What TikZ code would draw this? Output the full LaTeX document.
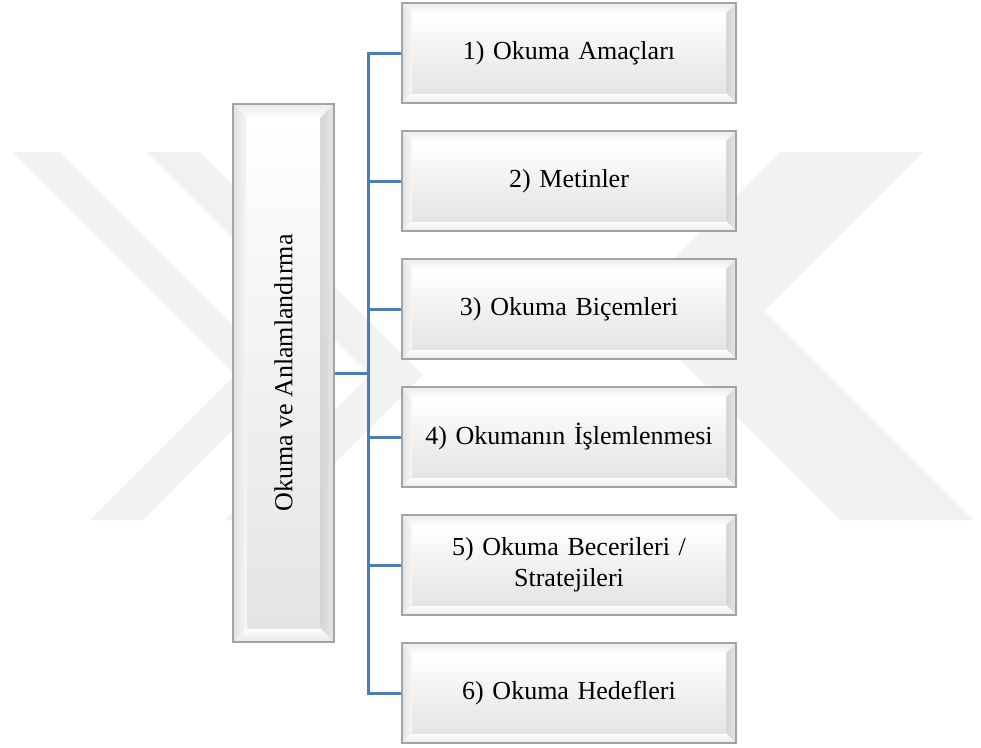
\documentclass[tikz,border=0pt]{standalone}
\usepackage{fontspec}
\setmainfont{Liberation Serif}
\pgfdeclarelayer{wm}
\pgfdeclarelayer{conn}
\pgfdeclarelayer{bev}
\pgfsetlayers{wm,conn,bev,main}
\definecolor{conncol}{HTML}{4A7EBB}
\definecolor{bordercol}{HTML}{A3A3A3}
\definecolor{wmcol}{HTML}{F2F2F2}
\definecolor{facebot}{HTML}{E4E4E4}
\definecolor{topbevA}{HTML}{ECECEC}
\definecolor{topbevB}{HTML}{FDFDFD}
\definecolor{leftbevA}{HTML}{E2E2E2}
\definecolor{leftbevB}{HTML}{F6F6F6}
\definecolor{rightbevA}{HTML}{D4D4D4}
\definecolor{rightbevB}{HTML}{E6E6E6}
\definecolor{botbevA}{HTML}{FFFFFF}
\definecolor{botbevB}{HTML}{E8E8E8}
\tikzset{
  rbox/.style={rectangle, inner sep=0pt, outer sep=0pt, minimum width=334pt,
    minimum height=100pt, align=center, text width=330pt,
    font=\fontsize{26}{31}\selectfont},
  lbox/.style={rectangle, inner sep=0pt, outer sep=0pt, minimum width=101pt,
    minimum height=538pt},
  vtext/.style={rotate=90, inner sep=0pt, font=\fontsize{26}{31}\selectfont},
  conn/.style={draw=conncol, line width=3pt, line join=miter},
  wmshape/.style={fill=wmcol}
}
\newcommand\bevelbox[2]{%
  \begin{pgfonlayer}{bev}
    \path (#1.north west) coordinate (#1-nw)
          (#1.north east) coordinate (#1-ne)
          (#1.south east) coordinate (#1-se)
          (#1.south west) coordinate (#1-sw)
          ([xshift=#2pt,yshift=-#2pt]#1.north west) coordinate (#1-inw)
          ([xshift=-#2pt,yshift=-#2pt]#1.north east) coordinate (#1-ine)
          ([xshift=-#2pt,yshift=#2pt]#1.south east) coordinate (#1-ise)
          ([xshift=#2pt,yshift=#2pt]#1.south west) coordinate (#1-isw);
    \shade[top color=topbevA, bottom color=topbevB]
      (#1-nw) -- (#1-ne) -- (#1-ine) -- (#1-inw) -- cycle;
    \shade[left color=leftbevA, right color=leftbevB]
      (#1-nw) -- (#1-inw) -- (#1-isw) -- (#1-sw) -- cycle;
    \shade[left color=rightbevA, right color=rightbevB]
      (#1-ne) -- (#1-se) -- (#1-ise) -- (#1-ine) -- cycle;
    \shade[top color=botbevA, bottom color=botbevB]
      (#1-sw) -- (#1-isw) -- (#1-ise) -- (#1-se) -- cycle;
    \shade[top color=white, bottom color=facebot] (#1-inw) rectangle (#1-ise);
    \draw[bordercol, line width=1.3pt] (#1-nw) rectangle (#1-se);
  \end{pgfonlayer}}
\begin{document}
\begin{tikzpicture}[x=1pt, y=-1pt]
  \useasboundingbox (0,0) rectangle (981,747);
  % background and faint watermark
  \begin{pgfonlayer}{wm}
    \fill[white] (0,0) rectangle (981,747);
    \fill[wmshape] (12,152) -- (60,152) -- (285,377) -- (143,520) -- (90,520) -- (235,375) -- cycle;
    \fill[wmshape] (147,152) -- (200,152) -- (423,375) -- (278,520) -- (225,520) -- (370,375) -- cycle;
    \fill[wmshape] (780,152) -- (923,152) -- (764,311) -- (973,520) -- (840,520) -- (626,306) -- cycle;
  \end{pgfonlayer}
  % nodes
  \node[lbox] (root) at (283.5,373) {};
  \node[vtext] (roottext) at (root.center) {Okuma ve Anlamlandırma};
  \node[rbox] (b1) at (569,53)  {1) Okuma Amaçları};
  \node[rbox] (b2) at (569,181) {2) Metinler};
  \node[rbox] (b3) at (569,309) {3) Okuma Biçemleri};
  \node[rbox] (b4) at (569,437) {4) Okumanın İşlemlenmesi};
  \node[rbox] (b5) at (569,565) {5) Okuma Becerileri /\\Stratejileri};
  \node[rbox] (b6) at (569,693) {6) Okuma Hedefleri};
  \bevelbox{root}{14}
  \bevelbox{b1}{10}
  \bevelbox{b2}{10}
  \bevelbox{b3}{10}
  \bevelbox{b4}{10}
  \bevelbox{b5}{10}
  \bevelbox{b6}{10}
  % connectors
  \coordinate (j) at (368,373);
  \begin{pgfonlayer}{conn}
    \draw[conn] (b1.west) -| (j |- b6.west) -- (b6.west);
    \foreach \b in {b2,b3,b4,b5} {\draw[conn] (j |- \b.west) -- (\b.west);}
    \draw[conn] (root.east) -- (j);
  \end{pgfonlayer}
\end{tikzpicture}
\end{document}
